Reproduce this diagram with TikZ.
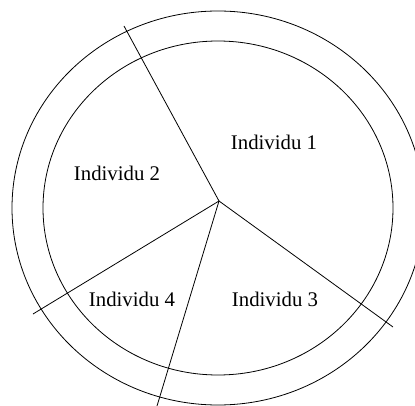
\documentclass[tikz,border=0pt]{standalone}
\usepackage{fontspec}
\setmainfont{Liberation Serif}
\tikzset{
  ring/.style={draw, line width=0.8pt},
  spoke/.style={line width=0.8pt},
  lbl/.style={font=\fontsize{20.8}{25}\selectfont, inner sep=0pt}
}
\begin{document}
\begin{tikzpicture}[x=1pt, y=-1pt]
\useasboundingbox (0,0) rectangle (415,406);
\clip (0,0) rectangle (415,406);
% rings
\draw[ring] (218,208) ellipse [x radius=206, y radius=197];
\draw[ring] (218,208) ellipse [x radius=175, y radius=167];
% spokes
\coordinate (o) at (219,201);
\coordinate (p1) at (124,26);
\coordinate (p2) at (393,327);
\coordinate (p3) at (157,406);
\coordinate (p4) at (33,314);
\foreach \t in {p1,p2,p3,p4} \draw[spoke] (o) -- (\t);
% labels
\node[lbl] (i1) at (274,142) {Individu 1};
\node[lbl] (i2) at (117,173) {Individu 2};
\node[lbl] (i3) at (275,299) {Individu 3};
\node[lbl] (i4) at (132,299) {Individu 4};
\end{tikzpicture}
\end{document}
